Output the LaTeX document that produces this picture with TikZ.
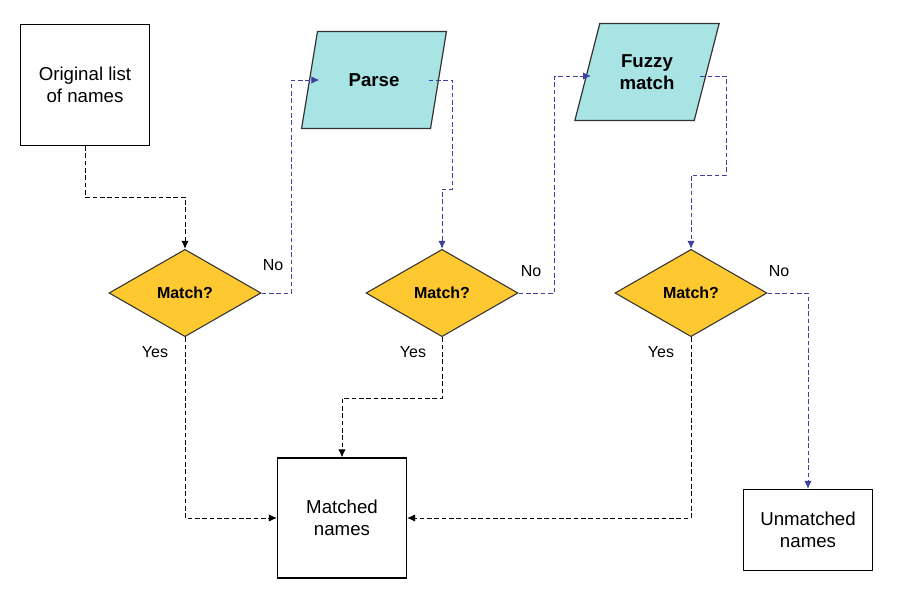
\documentclass[tikz,border=0pt]{standalone}
\usepackage{fontspec}
\setmainfont{Liberation Sans}
\usetikzlibrary{shapes.geometric,arrows.meta}
\definecolor{flowblue}{RGB}{64,64,160}
\definecolor{procfill}{RGB}{168,228,228}
\definecolor{testfill}{RGB}{254,200,48}

\begin{document}
\begin{tikzpicture}[x=0.75pt,y=-0.75pt,>={Latex[length=6pt,width=5.5pt]}]
    \tikzstyle{box} = [draw,rectangle,line width=0.9pt,minimum width=96.75pt,align=center,font=\fontsize{14}{16.5}\selectfont]
    \tikzstyle{proc} = [draw=black!80,fill=procfill,trapezium,trapezium left angle=69,trapezium right angle=111,trapezium stretches=true,line width=0.9pt,minimum width=108.75pt,minimum height=72.75pt,align=center,font=\fontsize{14}{16.5}\selectfont\bfseries]
    \tikzstyle{test} = [draw=black!80,fill=testfill,diamond,aspect=1.7,inner sep=0pt,line width=0.8pt,minimum width=114pt,minimum height=65.5pt,font=\fontsize{12}{14}\selectfont\bfseries]
    \tikzstyle{lbl} = [font=\fontsize{12}{14}\selectfont]
    \tikzstyle{yes} = [dash pattern=on 3.5pt off 2pt,line width=0.75pt]
    \tikzstyle{no} = [yes,draw=flowblue]
    \useasboundingbox (0,0) rectangle (902,607);

    \node[box,minimum height=90.75pt] (orig) at (85,85) {Original list\\of names};
    \node[proc] (parse) at (374,80) {Parse};
    \node[proc] (fuzzy) at (647,72) {Fuzzy\\match};
    \node[test] (d1) at (185,293) {Match?};
    \node[test] (d2) at (442,293) {Match?};
    \node[test] (d3) at (691,293) {Match?};
    \node[box,minimum height=90pt] (matched) at (342,518) {Matched\\names};
    \node[box,minimum height=60.75pt] (unmatched) at (808,530) {Unmatched\\names};

    % points on the slanted sides
    \coordinate (parsein) at ([xshift=-40.9pt]parse.center);
    \coordinate (parseout) at ([xshift=40.9pt]parse.center);
    \coordinate (fuzzyin) at ([xshift=-42pt,yshift=-3pt]fuzzy.center);
    \coordinate (fuzzyout) at ([xshift=40.1pt,yshift=-3pt]fuzzy.center);

    \node[lbl] (no1) at (273,265) {No};
    \node[lbl] (no2) at (531,271) {No};
    \node[lbl] (no3) at (779,271) {No};
    \node[lbl] (yes1) at (155,352) {Yes};
    \node[lbl] (yes2) at (413,352) {Yes};
    \node[lbl] (yes3) at (661,352) {Yes};

    % main line
    \draw[yes,->] (orig.south) -- ++(0,51) -| (d1.north);
    \draw[no,->,flowblue] (d1.east) -- ++(30,0) |- (parsein);
    \draw[no,->,flowblue] (parseout) -- ++(24,0) -- ++(0,109) -| (d2.north);
    \draw[no,->,flowblue] (d2.east) -- ++(36,0) |- (fuzzyin);
    \draw[no,->,flowblue] (fuzzyout) -- ++(26,0) -- ++(0,99) -| (d3.north);
    \draw[no,->,flowblue] (d3.east) -| (unmatched.north);

    % matches
    \draw[yes,->] (d1.south) |- (matched.west);
    \draw[yes,->] (d2.south) -- ++(0,61) -| (matched.north);
    \draw[yes,->] (d3.south) |- (matched.east);
\end{tikzpicture}
\end{document}
